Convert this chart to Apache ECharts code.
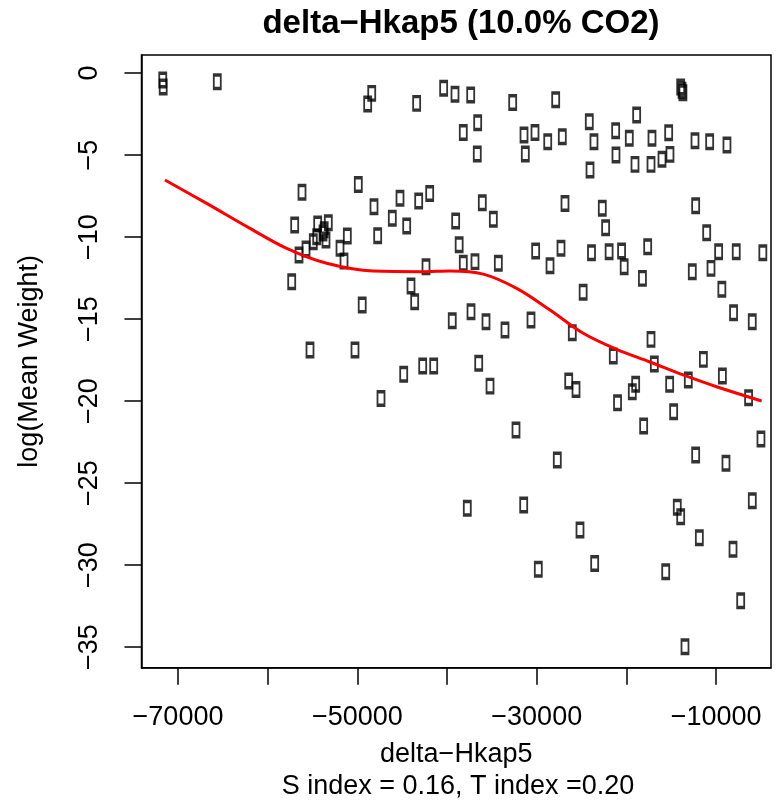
<!DOCTYPE html>
<html>
<head>
<meta charset="utf-8">
<script src="https://cdn.jsdelivr.net/npm/echarts@6/dist/echarts.min.js"></script>
<style>
html,body{margin:0;padding:0;background:#fff;}
#chart{width:781px;height:804px;}
</style>
</head>
<body>
<div id="chart"></div>
<script>
// Scatter points: delta-Hkap5 (x) and log(Mean Weight) (y)
var pointX = [
  -71700, -71650, -65620, -48400, -48850, -43390, -40380, -39115, -37365,
  -56174, -49896, -48146, -45247, -43163, -41937, -46105, -44500, -47735,
  -39040, -38650, -56990, -54424, -53240, -54535, -53832, -53700, -54914,
  -53498, -51120, -55728, -56508, -51937, -51490, -42348, -57322,
  -44020, -43610, -49460, -39420, -55282, -50265, -44834, -42716, -41490, -47366,
  -13950, -13800, -13700, -38190, -36585, -36630, -32682, -27888, -31420,
  -30195, -28775, -27150, -31275, -24140, -23620, -24060, -18860, -21200,
  -19680, -17150, -15290, -21165, -19045, -17260, -16035, -15145, -12355,
  -10720, -8790, -36070, -34840, -26850, -22690, -22320, -12280, -11050,
  -38190, -36885, -34283, -30120, -27295, -28520, -23895, -21930, -20540,
  -20250, -17630, -18215, -9720, -7755, -4790, -12655, -10570,
  -9360, -24825, -8055, -5970, -37330, -35658, -33540, -30640, -26035,
  -17260, -21465, -16890, -11420, -9300, -13100, -15180, -18970, -19345,
  -26435, -25620, -6380, -36470, -35210, -20990, -14735, -18080, -32313, -5000,
  -27708, -12280, -8900, -37744, -31455, -25177, -14330, -13950, -5965,
  -11870, -8115, -29826, -23540, -15620, -7260, -13470
];
var pointY = [
  -0.43, -0.85, -0.53, -1.24, -1.89, -1.85, -0.93, -1.30, -1.34,
  -7.27, -6.79, -8.15, -7.64, -7.80, -7.34, -8.86, -9.33, -9.92,
  -9.02, -10.47, -9.27, -9.21, -9.13, -9.98, -9.76, -9.55, -10.29,
  -10.18, -9.94, -10.73, -11.10, -10.69, -11.46, -11.81, -12.73,
  -12.99, -13.94, -14.15, -15.10, -16.89, -16.89, -18.37, -17.87, -17.87, -19.84,
  -0.85, -1.05, -1.20, -3.62, -3.03, -4.94, -1.79, -1.63, -3.78,
  -3.62, -4.19, -3.88, -4.94, -2.97, -4.19, -5.91, -2.56, -3.52,
  -3.98, -3.98, -3.64, -5.00, -5.57, -5.57, -5.26, -4.96, -4.13,
  -4.19, -4.39, -7.91, -8.92, -7.95, -8.25, -9.43, -8.09, -9.74,
  -11.60, -11.50, -11.60, -10.85, -10.69, -11.75, -10.96, -10.90, -10.85,
  -11.81, -10.59, -12.52, -10.90, -10.90, -10.96, -12.12, -11.91,
  -13.19, -13.37, -14.61, -15.16, -14.55, -15.16, -15.67, -15.06, -15.83,
  -16.24, -17.26, -17.74, -17.46, -18.48, -18.72, -18.98, -18.98, -19.43,
  -18.78, -19.29, -19.80, -17.70, -19.09, -20.10, -20.65, -21.52, -21.77, -22.32,
  -23.60, -23.29, -23.80, -26.54, -26.34, -27.87, -26.48, -27.05, -26.08,
  -28.33, -29.04, -30.26, -29.90, -30.41, -32.18, -34.98
];
// Smoothed (loess) trend line
var curveX = [-71450, -66800, -61970, -57880, -53420, -48225, -42650, -39670, -35960, -32235, -28520, -24810, -21085, -17370, -13660, -9940, -4920];
var curveY = [-6.52, -7.95, -9.47, -10.69, -11.60, -12.07, -12.11, -12.07, -12.26, -13.13, -14.45, -15.87, -16.85, -17.62, -18.41, -19.13, -20.00];
// Axis ticks and labels
var xTicks = [-70000, -60000, -50000, -40000, -30000, -20000, -10000];
var xTickLabels = [-70000, -50000, -30000, -10000];
var yTicks = [0, -5, -10, -15, -20, -25, -30, -35];

var titleText = 'delta\u2212Hkap5 (10.0% CO2)';
var xName = 'delta\u2212Hkap5';
var yName = 'log(Mean Weight)';
var subText = 'S index = 0.16, T index =0.20';

var scatterData = pointX.map(function (x, i) { return [x, pointY[i]]; });
var curveData = curveX.map(function (x, i) { return [x, curveY[i]]; });
function minus(v) { return String(v).replace('-', '\u2212'); }

var FONT = 'Liberation Sans, Arial, sans-serif';
var chart = echarts.init(document.getElementById('chart'), null, {renderer: 'canvas'});
chart.setOption({
  animation: false,
  backgroundColor: '#ffffff',
  title: [
    {text: titleText, left: 461, top: 7, textAlign: 'center', padding: 0,
     textStyle: {fontFamily: FONT, fontWeight: 'bold', fontSize: 33, color: '#000'}},
    {text: subText, left: 458, top: 773, textAlign: 'center', padding: 0,
     textStyle: {fontFamily: FONT, fontWeight: 'normal', fontSize: 27, color: '#000'}}
  ],
  grid: {left: 141.5, right: 10, top: 55, bottom: 136.3, show: true,
         borderColor: '#000', borderWidth: 1.5, backgroundColor: 'transparent', containLabel: false},
  xAxis: {
    type: 'value', min: -74070, max: -3880,
    name: xName, nameLocation: 'middle', nameGap: 73,
    nameTextStyle: {fontFamily: FONT, fontSize: 27, color: '#000'},
    splitLine: {show: false},
    axisLine: {show: true, onZero: false, lineStyle: {color: '#000', width: 1.5}},
    axisTick: {show: true, length: 17, lineStyle: {color: '#000', width: 1.5}, customValues: xTicks},
    axisLabel: {show: true, margin: 36, fontFamily: FONT, fontSize: 27, color: '#000',
      customValues: xTickLabels, formatter: minus}
  },
  yAxis: {
    type: 'value', min: -36.26, max: 1.1,
    name: yName, nameLocation: 'middle', nameGap: 98, nameRotate: 90,
    nameTextStyle: {fontFamily: FONT, fontSize: 27, color: '#000'},
    splitLine: {show: false},
    axisLine: {show: true, onZero: false, lineStyle: {color: '#000', width: 1.5}},
    axisTick: {show: true, length: 17, lineStyle: {color: '#000', width: 1.5}, customValues: yTicks},
    axisLabel: {show: true, rotate: 90, margin: 38, fontFamily: FONT, fontSize: 27, color: '#000',
      customValues: yTicks, formatter: minus}
  },
  series: [
    {
      type: 'scatter', data: scatterData,
      symbol: 'rect', symbolSize: [7, 13.5],
      itemStyle: {color: 'rgba(255,255,255,0)', borderColor: '#000', borderWidth: 2.5},
      z: 2
    },
    {
      type: 'line', data: curveData, smooth: 0.35, showSymbol: false,
      lineStyle: {color: '#ff0000', width: 3}, z: 3
    }
  ]
});
</script>
</body>
</html>
